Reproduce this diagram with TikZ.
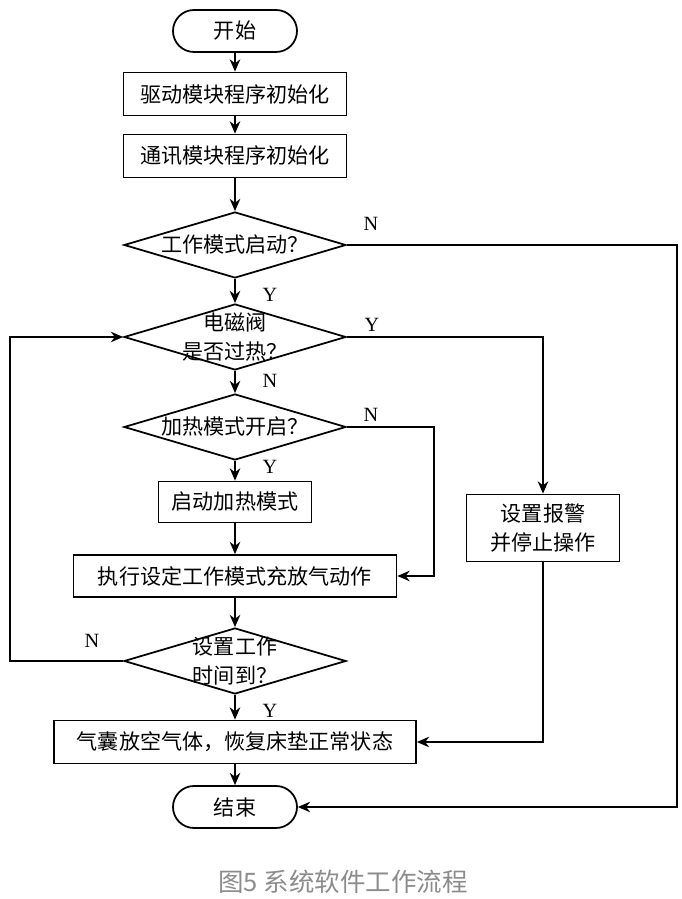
\documentclass[tikz,border=0pt]{standalone}
\usepackage{fontspec}
\usepackage{tikz}
\usetikzlibrary{shapes.geometric,arrows.meta}
\setmainfont{Liberation Serif}
\newfontfamily\cjk{Noto Sans CJK SC}

\begin{document}
\begin{tikzpicture}[
  line width=1pt,
  every node/.style={font=\cjk\fontsize{12}{17}\selectfont},
  flow/.style={-{Stealth[length=7pt,width=6pt]}},
  terminal/.style={draw,rounded corners=0.42cm,minimum width=2.48cm,minimum height=0.84cm},
  process/.style={draw,minimum height=0.86cm,align=center},
  decision/.style={draw,diamond,inner sep=0pt,minimum width=4.44cm,minimum height=1.32cm},
  yn/.style={font=\rmfamily\fontsize{11.5}{13}\selectfont}
]
\useasboundingbox (0,0) rectangle (13.62,17.98);

\node[terminal] (start) at (4.70,17.36) {开始};
\node[process,minimum width=4.46cm] (drvInit) at (4.70,16.10) {驱动模块程序初始化};
\node[process,minimum width=4.46cm] (comInit) at (4.70,14.86) {通讯模块程序初始化};

\node[decision] (modeOn) at (4.70,13.08) {};
\node (modeOnText) at (modeOn) {工作模式启动？};

\node[decision] (valveHot) at (4.70,11.24) {};
\node[align=center] (valveHotText) at (valveHot) {电磁阀\\是否过热？};

\node[decision] (heatOn) at (4.70,9.44) {};
\node (heatOnText) at (heatOn) {加热模式开启？};

\node[process,minimum width=3.06cm,minimum height=0.82cm] (heatStart) at (4.70,7.94) {启动加热模式};
\node[process,minimum width=6.46cm,minimum height=0.84cm] (execMode) at (4.70,6.46) {执行设定工作模式充放气动作};

\node[decision] (timeUp) at (4.70,4.76) {};
\node[align=center] (timeUpText) at (timeUp) {设置工作\\时间到？};

\node[process,minimum width=7.24cm] (release) at (4.70,3.14) {气囊放空气体，恢复床垫正常状态};
\node[terminal] (stop) at (4.70,1.84) {结束};

\node[process,minimum width=3.06cm,minimum height=1.34cm] (alarm) at (10.86,7.42) {设置报警\\并停止操作};

\coordinate (rightRail) at (13.54,1.84);
\coordinate (heatRail) at (8.68,6.46);
\coordinate (leftRail) at (0.20,11.24);

\draw[flow] (start) -- (drvInit);
\draw[flow] (drvInit) -- (comInit);
\draw[flow] (comInit) -- (modeOn.north);
\draw[flow] (modeOn.south) -- (valveHot.north);
\draw[flow] (valveHot.south) -- (heatOn.north);
\draw[flow] (heatOn.south) -- (heatStart);
\draw[flow] (heatStart) -- (execMode);
\draw[flow] (execMode) -- (timeUp.north);
\draw[flow] (timeUp.south) -- (release);
\draw[flow] (release) -- (stop);

\draw[flow] (modeOn.east) -| (rightRail) -- (stop.east);
\draw[flow] (valveHot.east) -| (alarm.north);
\draw[flow] (alarm.south) |- (release.east);
\draw[flow] (heatOn.east) -| (heatRail) -- (execMode.east);
\draw[flow] (timeUp.west) -| (leftRail) -- (valveHot.west);

\node[yn] (nMode) at (7.42,13.50) {N};
\node[yn] (yMode) at (5.40,12.08) {Y};
\node[yn] (yValve) at (7.44,11.48) {Y};
\node[yn] (nValve) at (5.40,10.36) {N};
\node[yn] (nHeat) at (7.42,9.68) {N};
\node[yn] (yHeat) at (5.40,8.64) {Y};
\node[yn] (nTime) at (1.84,5.16) {N};
\node[yn] (yTime) at (5.40,3.76) {Y};

\node[text=black!45,font=\cjk\fontsize{14.5}{17}\selectfont] (caption) at (6.86,0.34) {图5 系统软件工作流程};

\end{tikzpicture}
\end{document}
